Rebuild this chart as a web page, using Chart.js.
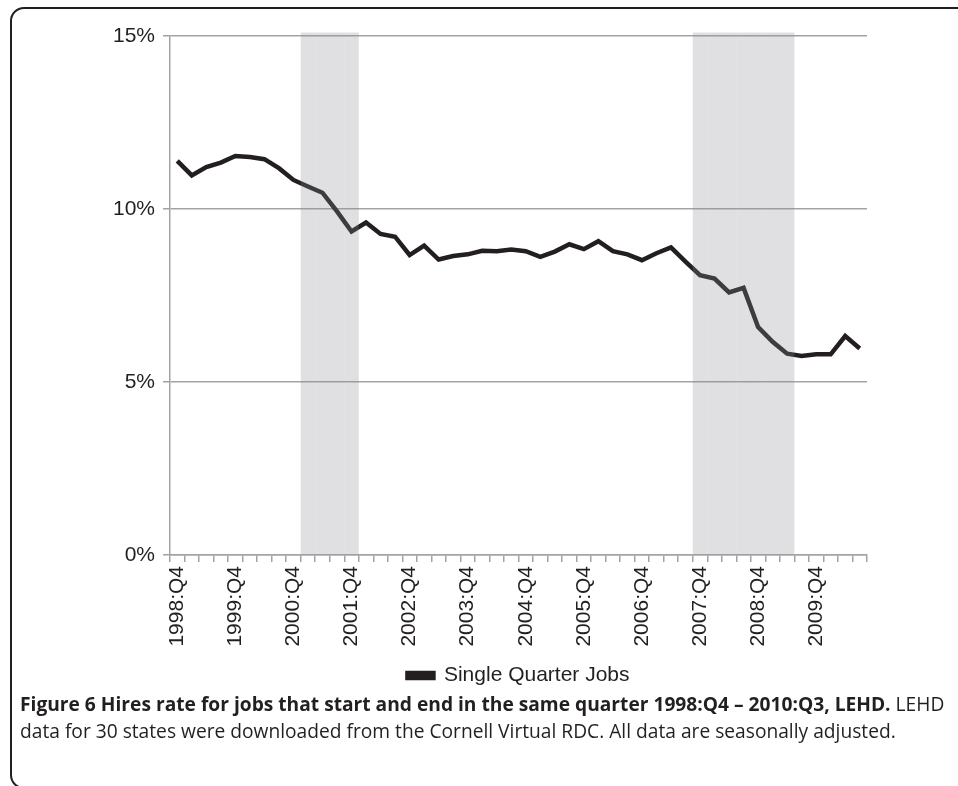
<!DOCTYPE html>
<html>
<head>
<meta charset="utf-8">
<script src="https://cdn.jsdelivr.net/npm/chart.js@4.4.1/dist/chart.umd.min.js"></script>
<style>
    html, body { margin: 0; padding: 0; background: #fff; overflow: hidden; }
    body { width: 958px; height: 786px; position: relative; }
    #marco {
        position: absolute; left: 10px; top: 7px; width: 1000px; height: 778px;
        border: 2px solid #231f20; border-radius: 14px;
    }
    #lienzo { position: absolute; left: 0; top: 0; }
    #pie {
        position: absolute; left: 20px; top: 690px;
        font-family: 'Open Sans', 'Noto Sans', sans-serif; font-size: 17px; line-height: 27px;
        color: #231f20; white-space: nowrap;
    }
    #pie b { font-weight: 700; }
</style>
</head>
<body>
<div id="marco"></div>
<canvas id="lienzo" width="958" height="696"></canvas>
<div id="pie"><span id="linea1"><b>Figure 6 Hires rate for jobs that start and end in the same quarter 1998:Q4 – 2010:Q3, LEHD.</b> LEHD</span><br>data for 30 states were downloaded from the Cornell Virtual RDC. All data are seasonally adjusted.</div>
<script>
'use strict';

// Trimestres (1998:Q4 - 2010:Q3)
const TRIMESTRES = [
    '1998:Q4', '1999:Q1', '1999:Q2', '1999:Q3', '1999:Q4', '2000:Q1', '2000:Q2', '2000:Q3',
    '2000:Q4', '2001:Q1', '2001:Q2', '2001:Q3', '2001:Q4', '2002:Q1', '2002:Q2', '2002:Q3',
    '2002:Q4', '2003:Q1', '2003:Q2', '2003:Q3', '2003:Q4', '2004:Q1', '2004:Q2', '2004:Q3',
    '2004:Q4', '2005:Q1', '2005:Q2', '2005:Q3', '2005:Q4', '2006:Q1', '2006:Q2', '2006:Q3',
    '2006:Q4', '2007:Q1', '2007:Q2', '2007:Q3', '2007:Q4', '2008:Q1', '2008:Q2', '2008:Q3',
    '2008:Q4', '2009:Q1', '2009:Q2', '2009:Q3', '2009:Q4', '2010:Q1', '2010:Q2', '2010:Q3'
];

// Tasa de contratacion (%) - Single Quarter Jobs
const TASA_SQJ = [
    11.39, 10.97, 11.21, 11.34, 11.53, 11.50, 11.44, 11.18,
    10.84, 10.65, 10.47, 9.93, 9.35, 9.61, 9.28, 9.20,
    8.67, 8.94, 8.54, 8.64, 8.69, 8.79, 8.78, 8.83,
    8.78, 8.62, 8.77, 8.98, 8.84, 9.07, 8.78, 8.69,
    8.52, 8.72, 8.89, 8.48, 8.09, 7.99, 7.59, 7.72,
    6.59, 6.16, 5.82, 5.75, 5.80, 5.80, 6.33, 5.97
];

// Trimestres en recesion (sombreado)
const RECESION = [
    '2001:Q1', '2001:Q2', '2001:Q3', '2001:Q4',
    '2007:Q4', '2008:Q1', '2008:Q2', '2008:Q3', '2008:Q4', '2009:Q1', '2009:Q2'
];
const TOPE_SOMBRA = 15.1;

const TICKS_Y = [0, 5, 10, 15];
const ETIQUETAS_X = ['1998:Q4', '1999:Q4', '2000:Q4', '2001:Q4', '2002:Q4', '2003:Q4',
    '2004:Q4', '2005:Q4', '2006:Q4', '2007:Q4', '2008:Q4', '2009:Q4'];

const FUENTE = "'Liberation Sans', Arial, sans-serif";
const TINTA = '#231f20';
const GRIS_EJE = '#a3a3a3';

const sombra = TRIMESTRES.map(t => RECESION.includes(t) ? TOPE_SOMBRA : null);

new Chart(document.getElementById('lienzo'), {
    type: 'bar',
    data: {
        labels: TRIMESTRES,
        datasets: [
            {
                type: 'bar',
                label: 'Recesion',
                data: sombra,
                backgroundColor: 'rgba(141, 142, 146, 0.27)',
                borderWidth: 0,
                inflateAmount: 0,
                barPercentage: 1,
                categoryPercentage: 1,
                clip: false,
                order: 0
            },
            {
                type: 'line',
                label: 'Single Quarter Jobs',
                data: TASA_SQJ,
                borderColor: TINTA,
                backgroundColor: TINTA,
                borderWidth: 4.5,
                pointRadius: 0,
                tension: 0,
                borderJoinStyle: 'miter',
                order: 1
            }
        ]
    },
    options: {
        responsive: false,
        animation: false,
        layout: { padding: { left: 0, right: 91, top: 36, bottom: 0 } },
        plugins: {
            tooltip: { enabled: false },
            legend: {
                position: 'bottom',
                fullSize: false,
                labels: {
                    color: TINTA,
                    font: { family: FUENTE, size: 21 },
                    boxWidth: 26,
                    boxHeight: 5,
                    padding: 10,
                    filter: item => item.text === 'Single Quarter Jobs'
                }
            }
        },
        scales: {
            x: {
                offset: true,
                grid: {
                    offset: true,
                    drawOnChartArea: false,
                    drawTicks: true,
                    tickLength: 7,
                    color: GRIS_EJE,
                    lineWidth: 1.5
                },
                border: { display: true, color: GRIS_EJE, width: 1.5 },
                ticks: {
                    autoSkip: false,
                    minRotation: 90,
                    maxRotation: 90,
                    padding: 4,
                    color: TINTA,
                    font: { family: FUENTE, size: 21 },
                    callback: function (valor) {
                        const t = this.getLabelForValue(valor);
                        return ETIQUETAS_X.includes(t) ? t : '';
                    }
                },
                afterFit: escala => { escala.height = 100; }
            },
            y: {
                min: 0,
                max: 15,
                afterBuildTicks: escala => { escala.ticks = TICKS_Y.map(v => ({ value: v })); },
                grid: {
                    color: GRIS_EJE,
                    lineWidth: 1.5,
                    tickLength: 7
                },
                border: { display: true, color: GRIS_EJE, width: 1.5 },
                ticks: {
                    padding: 8,
                    color: TINTA,
                    font: { family: FUENTE, size: 21 },
                    callback: v => v + '%'
                },
                afterFit: escala => { escala.width = 170; }
            }
        }
    }
});

// Ajustar el pie de figura al ancho del recuadro
const linea1 = document.getElementById('linea1');
const pie = document.getElementById('pie');
const ancho = linea1.getBoundingClientRect().width;
pie.style.fontSize = (17 * 925 / ancho).toFixed(2) + 'px';
</script>
</body>
</html>
